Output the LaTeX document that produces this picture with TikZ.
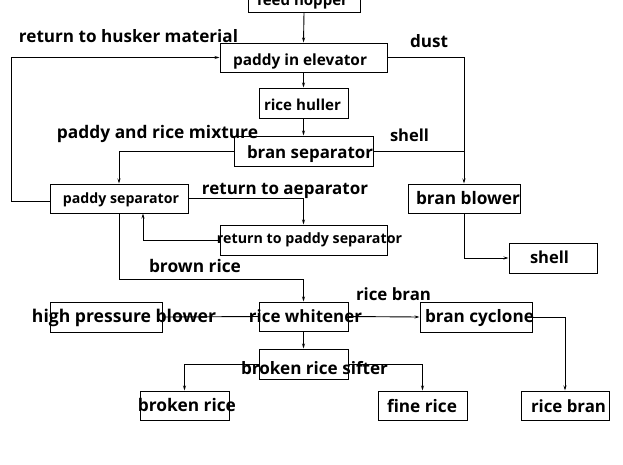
\documentclass[tikz,border=0pt]{standalone}
\usepackage{fontspec}
\setmainfont{Open Sans}
\usetikzlibrary{arrows.meta}
\newcommand{\tw}[2]{\resizebox{#1pt}{!}{\bfseries #2}}
\tikzset{
  box/.style={draw, line width=1pt, inner sep=0pt, minimum width=#1},
  txt/.style={inner sep=0pt, anchor=base},
  conn/.style={line width=0.9pt},
  arr/.style={conn, -{Stealth[length=5pt,width=3pt]}}
}
\begin{document}
\begin{tikzpicture}[x=1pt,y=-1pt]
\useasboundingbox (0,0) rectangle (623,464);
\fill[white] (0,0) rectangle (623,464);
% boxes
\node[box=112pt, minimum height=30pt] (hopper) at (304,-3) {};
\node[box=167pt, minimum height=29pt] (elev) at (303.5,57.5) {};
\node[box=89pt, minimum height=30pt] (huller) at (303.5,103) {};
\node[box=139pt, minimum height=30pt] (bransep) at (303.5,151) {};
\node[box=138pt, minimum height=29pt] (paddysep) at (119,198.5) {};
\node[box=167pt, minimum height=30pt] (retbox) at (303.5,240) {};
\node[box=112pt, minimum height=29pt] (blower) at (464,198.5) {};
\node[box=88pt, minimum height=30pt] (shellbox) at (553,258) {};
\node[box=112pt, minimum height=30pt] (hpb) at (106,317) {};
\node[box=89pt, minimum height=29pt] (whitener) at (303.5,316.5) {};
\node[box=112pt, minimum height=30pt] (cyclone) at (476,317) {};
\node[box=89pt, minimum height=30pt] (sifter) at (303.5,364) {};
\node[box=89pt, minimum height=29pt] (broken) at (184.5,405.5) {};
\node[box=89pt, minimum height=29pt] (fine) at (422.5,405.5) {};
\node[box=88pt, minimum height=29pt] (ricebran) at (565,405.5) {};
% box texts
\node[txt] (hopperT) at (302.5,5) {\tw{91}{feed hopper}};
\node[txt] (elevT) at (300,65) {\tw{134}{paddy in elevator}};
\node[txt] (hullerT) at (302.5,110.5) {\tw{77}{rice huller}};
\node[txt] (bransepT) at (310,158) {\tw{126}{bran separator}};
\node[txt] (paddysepT) at (121,203) {\tw{116}{paddy separator}};
\node[txt] (retboxT) at (309.5,243) {\tw{185}{return to paddy separator}};
\node[txt] (blowerT) at (468,204) {\tw{104}{bran blower}};
\node[txt] (shellboxT) at (549.5,263) {\tw{39}{shell}};
\node[txt] (hpbT) at (124,322) {\tw{184}{high pressure blower}};
\node[txt] (whitenerT) at (305.5,322) {\tw{113}{rice whitener}};
\node[txt] (cycloneT) at (479.5,322) {\tw{109}{bran cyclone}};
\node[txt] (sifterT) at (314.5,374) {\tw{147}{broken rice sifter}};
\node[txt] (brokenT) at (187,411) {\tw{98}{broken rice}};
\node[txt] (fineT) at (422,412) {\tw{70}{fine rice}};
\node[txt] (ricebranT) at (568.5,412) {\tw{75}{rice bran}};
% free labels
\node[txt] (l1) at (128.5,42) {\tw{219}{return to husker material}};
\node[txt] (l2) at (429,47) {\tw{38}{dust}};
\node[txt] (l3) at (157.5,138) {\tw{201}{paddy and rice mixture}};
\node[txt] (l4) at (409.5,141.5) {\tw{39}{shell}};
\node[txt] (l5) at (285,194) {\tw{166}{return to aeparator}};
\node[txt] (l6) at (195,272) {\tw{92}{brown rice}};
\node[txt] (l7) at (393.5,300) {\tw{75}{rice bran}};
% connectors
\draw[arr] (hopper.south) -- (elev.north);
\draw[arr] (elev.south) -- (huller.north);
\draw[arr] (huller.south) -- (bransep.north);
\draw[arr] (elev.east) -| (blower.north);
\draw[conn] (bransep.east) -- (bransep.east -| blower.north);
\draw[arr] (bransep.west) -| (paddysep.north);
\draw[arr] ([yshift=-2.5pt]paddysep.west) -- ++(-38,0) |- (elev.west);
\draw[arr] (paddysep.east) -| (retbox.north);
\draw[arr] (retbox.west) -| ([xshift=24pt]paddysep.south);
\draw[arr] (paddysep.south) -- ++(0,66) -| (whitener.north);
\draw[conn] (hpb.east) -- (whitener.west);
\draw[arr] (whitener.east) -- (cyclone.west);
\draw[arr] (cyclone.east) -| (ricebran.north);
\draw[arr] (whitener.south) -- (sifter.north);
\draw[arr] (sifter.west) -| (broken.north);
\draw[arr] (sifter.east) -| (fine.north);
\draw[arr] (blower.south) |- (shellbox.west);
\end{tikzpicture}
\end{document}
